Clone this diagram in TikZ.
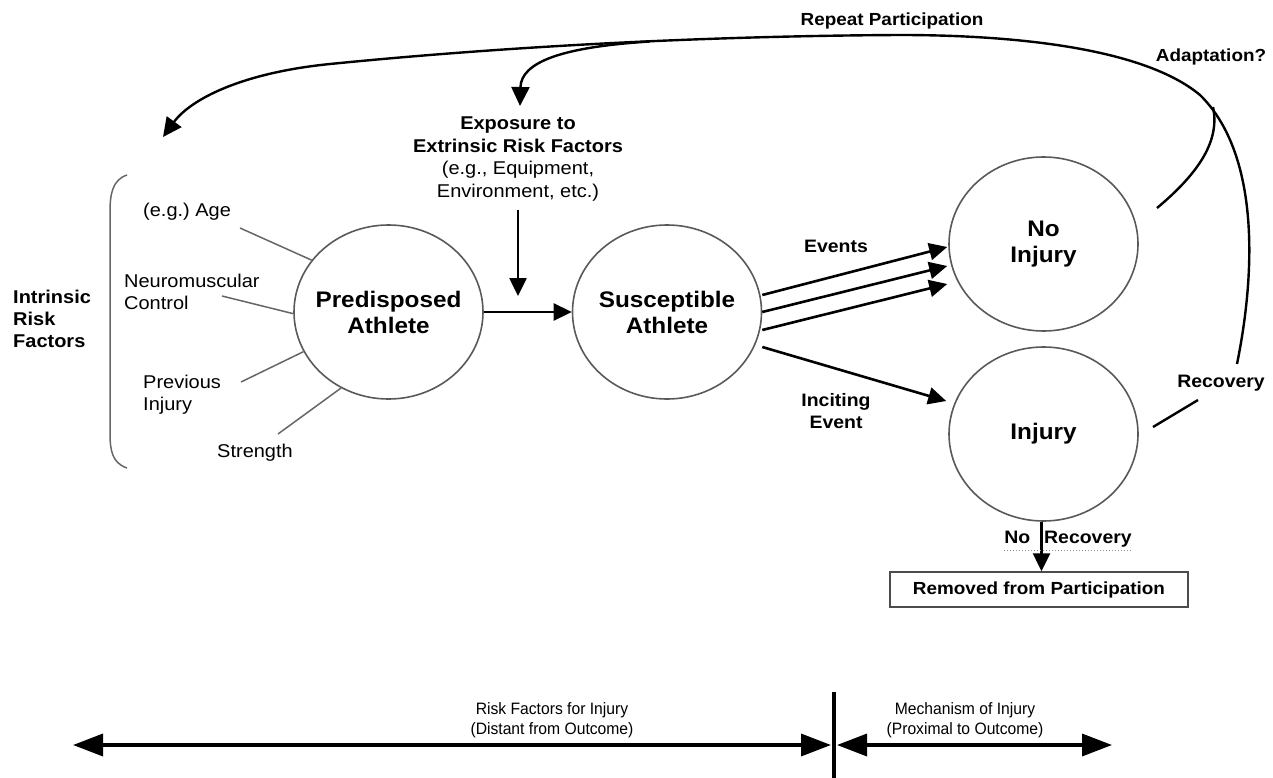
\documentclass[tikz,border=0pt]{standalone}
\usepackage{fontspec}
\setmainfont{Liberation Sans}[FakeStretch=1.08]
\newfontfamily\narrowf{Liberation Sans}[FakeStretch=0.95]
\usetikzlibrary{shapes.geometric,arrows.meta}
\frenchspacing
\begin{document}
\begin{tikzpicture}[x=1pt,y=-1pt,
  circ/.style={draw=black!65, line width=1.6pt, ellipse, minimum width=189pt, minimum height=174pt,
    inner sep=0pt},
  ctext/.style={align=center, inner sep=0pt, font=\fontsize{22.5}{26}\selectfont\bfseries},
  lbl/.style={font=\fontsize{18.5}{22}\selectfont, align=left, inner sep=0pt},
  blbl/.style={font=\fontsize{18}{22}\selectfont\bfseries, align=center, inner sep=0pt},
  thinl/.style={draw=black!60, line width=1.5pt},
  arr/.style={line width=2.6pt, -{Triangle[length=18pt,width=17pt]}},
  curvearr/.style={line width=2.4pt, -{Triangle[length=19pt,width=18pt]}},
  curvel/.style={line width=2.4pt},
  dbl/.style={line width=3.5pt, {Triangle[length=30pt,width=22pt]}-{Triangle[length=30pt,width=22pt]}},
  btxt/.style={font=\narrowf\fontsize{16.5}{20}\selectfont, align=center, inner sep=0pt}
]
\useasboundingbox (0,0) rectangle (1273,778);

% circles
\node[circ, label={[ctext]center:{Predisposed\\Athlete}}] (pred) at (388.5,312) {};
\node[circ, label={[ctext]center:{Susceptible\\Athlete}}] (susc) at (667,312) {};
\node[circ, label={[ctext]center:{No\\Injury}}] (noinj) at (1043.5,244) {};
\node[circ, label={[ctext]center:{Injury}}] (inj) at (1043.5,434) {};

% intrinsic factors
\node[lbl, font=\fontsize{18.5}{22}\selectfont\bfseries, anchor=west] (intr) at (13,319) {Intrinsic\\Risk\\Factors};
\draw[thinl] (127,175) .. controls (112,180) and (110,195) .. (110,212) -- (110,433) .. controls (110,450) and (112,463) .. (127,468);
\node[lbl, anchor=west] (age) at (143,212) {(e.g.) Age};
\node[lbl, anchor=west] (neuro) at (124,292) {Neuromuscular\\Control};
\node[lbl, anchor=west] (prev) at (143,395) {Previous\\Injury};
\node[lbl] (str) at (255,453) {Strength};
\coordinate (a1) at (240,228);
\coordinate (a2) at (222,296);
\coordinate (a3) at (241,382);
\coordinate (a4) at (278,434);
\draw[thinl] (a1) -- (pred.146);
\draw[thinl] (a2) -- (pred.181);
\draw[thinl] (a3) -- (pred.205);
\draw[thinl] (a4) -- (pred.238);

% exposure
\node[align=center, inner sep=0pt, font=\fontsize{18.5}{22.7}\selectfont] (expo) at (518,159)
  {\textbf{Exposure to}\\\textbf{Extrinsic Risk Factors}\\(e.g., Equipment,\\Environment, etc.)};
\coordinate (expotip) at (518,296);
\draw[arr] ([yshift=-8pt]expo.south) -- (expotip);

% main arrows
\draw[arr] (pred) -- (susc);
\node[blbl] (events) at (836,246) {Events};
\draw[arr] ([yshift=17pt]susc.east) -- ([xshift=-1pt,yshift=-3pt]noinj.west);
\draw[arr] (susc.east) -- ([xshift=-1pt,yshift=-22pt]noinj.west);
\draw[arr] ([yshift=-18pt]susc.east) -- ([xshift=-1pt,yshift=-40pt]noinj.west);
\node[blbl] (incit) at (836,411) {Inciting\\Event};
\draw[arr] ([yshift=-35pt]susc.east) -- ([xshift=-2pt,yshift=33pt]inj.west);

% removed
\node[draw=black!70, line width=1.5pt, minimum width=298pt, minimum height=35pt, inner sep=0pt,
  font=\fontsize{17.5}{20}\selectfont\bfseries] (box) at (1039,589.5) {Removed from Participation};
\draw[arr] ([xshift=-2pt]inj.south) -- ([xshift=-2pt]inj.south |- box.north);
\node[blbl] (norec) at (1068,539) {No\hspace{14pt}Recovery};
\draw[black!45, line width=1pt, dotted] ([yshift=-3pt]norec.south west) -- ([yshift=-3pt]norec.south east);

% recovery / repeat participation
\node[blbl] (recov) at (1221,383) {Recovery};
\node[blbl, font=\fontsize{17.5}{20}\selectfont\bfseries] (adapt) at (1211,57) {Adaptation?};
\node[blbl, font=\fontsize{17.5}{20}\selectfont\bfseries] (repeat) at (892,21) {Repeat Participation};
\coordinate (r0) at (1237,364);
\coordinate (lefttip) at (163,137);
\coordinate (j1) at (650,41.5);
\coordinate (jt) at (520,106);
\coordinate (jn) at (1213,107);
\coordinate (n0) at (1157,208);
\coordinate (i0) at (1153,427);
\coordinate (i1) at (1198,400);
\draw[curvearr] (r0) .. controls (1258,260) and (1256,150) .. (1200,95)
  .. controls (1140,45) and (1000,35) .. (900,35)
  .. controls (700,36) and (500,47) .. (330,64)
  .. controls (240,73) and (190,100) .. (lefttip);
\draw[curvearr] (j1) .. controls (562,47) and (521,62) .. (jt);
\draw[curvel] (n0) .. controls (1200,172) and (1220,140) .. (jn);
\draw[curvel] (i0) -- (i1);

% bottom timeline
\coordinate (vt) at (834,692);
\coordinate (vb) at (834,778);
\draw[line width=3.5pt] (vt) -- (vb);
\coordinate (l0) at (73,745);
\coordinate (l1) at (831,745);
\coordinate (m0) at (837,745);
\coordinate (m1) at (1112,745);
\draw[dbl] (l0) -- (l1);
\draw[dbl] (m0) -- (m1);
\node[btxt] (rf) at (552,720) {Risk Factors for Injury\\(Distant from Outcome)};
\node[btxt] (mi) at (965,720) {Mechanism of Injury\\(Proximal to Outcome)};
\end{tikzpicture}
\end{document}
